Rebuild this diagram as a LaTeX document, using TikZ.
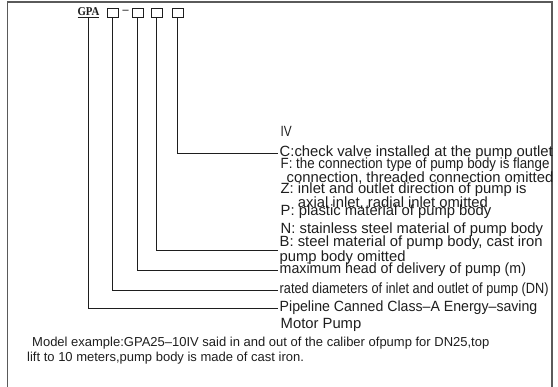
\documentclass[tikz,border=0pt]{standalone}
\usepackage{fontspec}
\usepackage{graphicx}
\setmainfont{Liberation Serif}
\setsansfont{Liberation Sans}
\definecolor{ink}{HTML}{1E1E1E}
\definecolor{framegray}{HTML}{5A5A5A}
\newcommand{\narrow}[2]{\scalebox{#1}[1]{#2}}
\tikzset{
  codebox/.style={draw=ink, line width=0.9pt, minimum width=11pt, minimum height=9pt, inner sep=0pt},
  leader/.style={draw=ink, line width=0.9pt},
  desc/.style={anchor=west, align=left, inner xsep=1.5pt, inner ysep=0pt, text=ink, font=\sffamily\fontsize{14.8}{12}\selectfont},
  notetext/.style={anchor=west, align=left, inner sep=0pt, text=ink, font=\sffamily\fontsize{13}{15}\selectfont}
}

\begin{document}
\begin{tikzpicture}[x=1pt, y=-1pt]
  \useasboundingbox (0,0) rectangle (558,387);
  \draw[framegray, line width=1.4pt] (7.5,387) -- (7.5,2) -- (552,2) -- (552,387);
  % model code
  \node[inner sep=0pt, text=ink, font=\rmfamily\bfseries\fontsize{12}{12}\selectfont] (gpa) at (88.5,13) {\narrow{0.9}{\underline{GPA}}};
  \node[codebox] (dn) at (112.5,12.5) {};
  \node[inner sep=0pt, text=ink, font=\rmfamily\bfseries\fontsize{12}{12}\selectfont] (dash) at (125.5,12) {--};
  \node[codebox] (head) at (137.5,12.5) {};
  \node[codebox] (mat) at (156.5,12.5) {};
  \node[codebox] (valve) at (177.5,12.5) {};
  % options
  \node[desc] (iv) at (279,131) {\narrow{0.8}{IV}};
  \node[desc] (cvalve) at (278,153) {C:check valve installed at the pump outlet};
  \node[desc] (fconn) at (279,171) {\narrow{0.9}{F: the connection type of pump body is flange}\\\hspace*{6pt}connection, threaded connection omitted};
  \node[desc, font=\sffamily\fontsize{14.8}{9}\selectfont] (zdir) at (279,196) {Z: inlet and outlet direction of pump is\\\phantom{Z: }axial inlet, radial inlet omitted};
  \node[desc] (pmat) at (279,212) {P: plastic material of pump body};
  \node[desc] (nmat) at (279,230) {N: stainless steel material of pump body};
  \node[desc, font=\sffamily\fontsize{14.8}{10}\selectfont] (bmat) at (278,250) {B: steel material of pump body, cast iron\\pump body omitted};
  \node[desc] (maxhead) at (278,270) {\narrow{0.96}{maximum head of delivery of pump (m)}};
  \node[desc] (rated) at (278,290) {\narrow{0.86}{rated diameters of inlet and outlet of pump (DN)}};
  \node[desc] (pipe) at (278,308) {\narrow{0.955}{Pipeline Canned Class--A Energy--saving}};
  \node[desc] (motor) at (279,325) {Motor Pump};
  % leaders
  \draw[leader] (valve.south) |- (cvalve.west);
  \draw[leader] (mat.south) |- (bmat.west);
  \draw[leader] (head.south) |- (maxhead.west);
  \draw[leader] (dn.south) |- (rated.west);
  \draw[leader] (gpa.south) |- (pipe.west);
  \node[notetext] (example) at (27,351) {\hspace*{5pt}Model example:GPA25--10IV said in and out of the caliber ofpump for DN25,top\\lift to 10 meters,pump body is made of cast iron.};
\end{tikzpicture}
\end{document}
